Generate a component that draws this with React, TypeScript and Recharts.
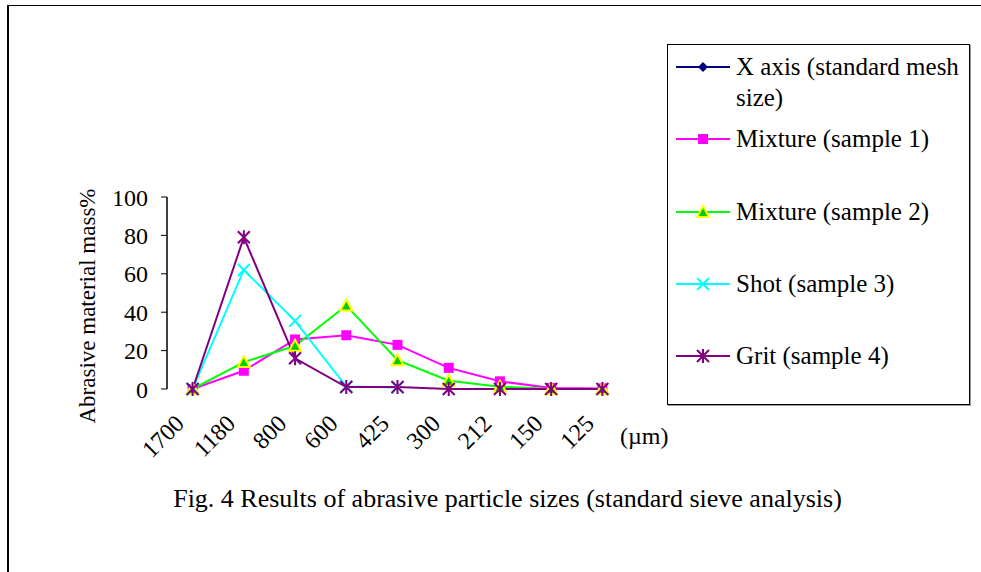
import React from "react";
import { LineChart, Line, XAxis, YAxis } from "recharts";

const sizes = ["1700", "1180", "800", "600", "425", "300", "212", "150", "125"];
const mixture1 = [0, 9.5, 25.8, 28, 23, 11, 4, 0.5, 0.3];
const mixture2 = [0, 14, 22.5, 43.5, 15, 4.3, 1.2, 0, 0];
const shot = [0, 62, 35.5, 1.3, 0.8, null, null, null, null];
const grit = [0, 79, 16, 1, 1, 0, 0, 0, 0];
const yTicks = [0, 20, 40, 60, 80, 100];

const data = sizes.map((s, i) => ({
  size: s,
  m1: mixture1[i],
  m2: mixture2[i],
  shot: shot[i],
  grit: grit[i],
}));

const FONT = '"Liberation Serif", "Times New Roman", serif';

const Diamond = ({ cx, cy }: any) => (
  <path d={`M${cx},${cy - 5} L${cx + 5},${cy} L${cx},${cy + 5} L${cx - 5},${cy} Z`} fill="#000080" />
);
const Square = ({ cx, cy }: any) => (
  <rect x={cx - 5} y={cy - 5} width={10} height={10} fill="#ff00ff" />
);
const Triangle = ({ cx, cy }: any) => (
  <path
    d={`M${cx},${cy - 6} L${cx + 6},${cy + 5} L${cx - 6},${cy + 5} Z`}
    fill="#00cc00"
    stroke="#ffff00"
    strokeWidth={2}
  />
);
const Cross = ({ cx, cy }: any) => (
  <path
    d={`M${cx - 6},${cy - 6} L${cx + 6},${cy + 6} M${cx + 6},${cy - 6} L${cx - 6},${cy + 6}`}
    stroke="#00ffff"
    strokeWidth={2}
  />
);
const Star = ({ cx, cy }: any) => (
  <path
    d={`M${cx - 6},${cy - 6} L${cx + 6},${cy + 6} M${cx + 6},${cy - 6} L${cx - 6},${cy + 6} M${cx},${cy - 7} L${cx},${cy + 7}`}
    stroke="#800080"
    strokeWidth={2}
  />
);

const dotOf = (Shape: any) => (p: any) =>
  p.cx == null || p.cy == null || p.value == null ? (
    <g key={p.index} />
  ) : (
    <Shape key={p.index} cx={p.cx} cy={p.cy} />
  );

const legendItems = [
  { name: ["X axis (standard mesh", "size)"], color: "#000080", Shape: Diamond, top: 67 },
  { name: ["Mixture (sample 1)"], color: "#ff00ff", Shape: Square, top: 139 },
  { name: ["Mixture (sample 2)"], color: "#00ff00", Shape: Triangle, top: 212 },
  { name: ["Shot (sample 3)"], color: "#00ffff", Shape: Cross, top: 284 },
  { name: ["Grit (sample 4)"], color: "#800080", Shape: Star, top: 356 },
];

const SizeTick = ({ x, y, payload }: any) => {
  const ax = x - 7;
  const ay = y + 36;
  return (
    <text
      x={ax}
      y={ay}
      transform={`rotate(-45, ${ax}, ${ay})`}
      textAnchor="end"
      fontSize={24}
      fontFamily={FONT}
      fill="#000"
    >
      {payload.value}
    </text>
  );
};

export default function App() {
  return (
    <div
      style={{
        position: "fixed",
        left: 0,
        top: 0,
        width: 981,
        height: 572,
        background: "#fff",
        fontFamily: FONT,
        overflow: "hidden",
      }}
    >
      <div
        style={{
          position: "absolute",
          left: 7,
          top: 5,
          width: 1000,
          height: 600,
          borderTop: "1.5px solid #000",
          borderLeft: "2px solid #000",
        }}
      />
      <LineChart
        width={981}
        height={572}
        data={data}
        margin={{ top: 197, right: 353, bottom: 123, left: 107 }}
        style={{ position: "absolute", left: 0, top: 0 }}
      >
        <XAxis
          xAxisId="grid"
          type="number"
          domain={[0, 9]}
          ticks={[0, 1, 2, 3, 4, 5, 6, 7, 8, 9]}
          height={0}
          tick={false}
          tickSize={6}
          axisLine={{ stroke: "#808080", strokeWidth: 1.5 }}
          tickLine={{ stroke: "#000" }}
          allowDataOverflow
        />
        <XAxis
          xAxisId="cat"
          dataKey="size"
          height={60}
          padding={{ left: 25.6, right: 25.6 }}
          axisLine={false}
          tickLine={false}
          tickSize={0}
          tickMargin={0}
          interval={0}
          tick={<SizeTick />}
        />
        <YAxis
          domain={[0, 100]}
          ticks={yTicks}
          width={60}
          tickSize={6}
          tickMargin={13}
          axisLine={{ stroke: "#000", strokeWidth: 1.5 }}
          tickLine={{ stroke: "#000" }}
          tick={{ fontSize: 24, fontFamily: FONT, fill: "#000" }}
        />
        <Line xAxisId="cat" dataKey="m1" stroke="#ff00ff" strokeWidth={2} dot={dotOf(Square)} isAnimationActive={false} />
        <Line xAxisId="cat" dataKey="m2" stroke="#00ff00" strokeWidth={2} dot={dotOf(Triangle)} isAnimationActive={false} />
        <Line xAxisId="cat" dataKey="shot" stroke="#00ffff" strokeWidth={2} dot={dotOf(Cross)} isAnimationActive={false} />
        <Line xAxisId="cat" dataKey="grit" stroke="#800080" strokeWidth={2} dot={dotOf(Star)} isAnimationActive={false} />
      </LineChart>

      <div
        style={{
          position: "absolute",
          left: 88,
          top: 306,
          transform: "translate(-50%, -50%) rotate(-90deg)",
          fontSize: 23,
          whiteSpace: "nowrap",
        }}
      >
        Abrasive material mass%
      </div>
      <div style={{ position: "absolute", left: 620, top: 423, fontSize: 24 }}>(µm)</div>
      <div
        style={{
          position: "absolute",
          left: 0,
          width: 1015,
          top: 484,
          textAlign: "center",
          fontSize: 26,
          whiteSpace: "nowrap",
        }}
      >
        Fig. 4 Results of abrasive particle sizes (standard sieve analysis)
      </div>

      <div
        style={{
          position: "absolute",
          left: 667,
          top: 44,
          width: 301,
          height: 359,
          border: "1px solid #000",
          boxShadow: "1px 1px 0 #999",
        }}
      />
      {legendItems.map((it) => (
        <div key={it.color}>
          <svg
            width={56}
            height={20}
            style={{ position: "absolute", left: 675, top: it.top - 10 }}
          >
            <line x1={1} y1={10} x2={55} y2={10} stroke={it.color} strokeWidth={2} />
            <it.Shape cx={28} cy={10} />
          </svg>
          <div
            style={{
              position: "absolute",
              left: 736,
              top: it.top - 16,
              fontSize: 25,
              lineHeight: "31px",
              whiteSpace: "nowrap",
            }}
          >
            {it.name.map((n) => (
              <div key={n}>{n}</div>
            ))}
          </div>
        </div>
      ))}
    </div>
  );
}
